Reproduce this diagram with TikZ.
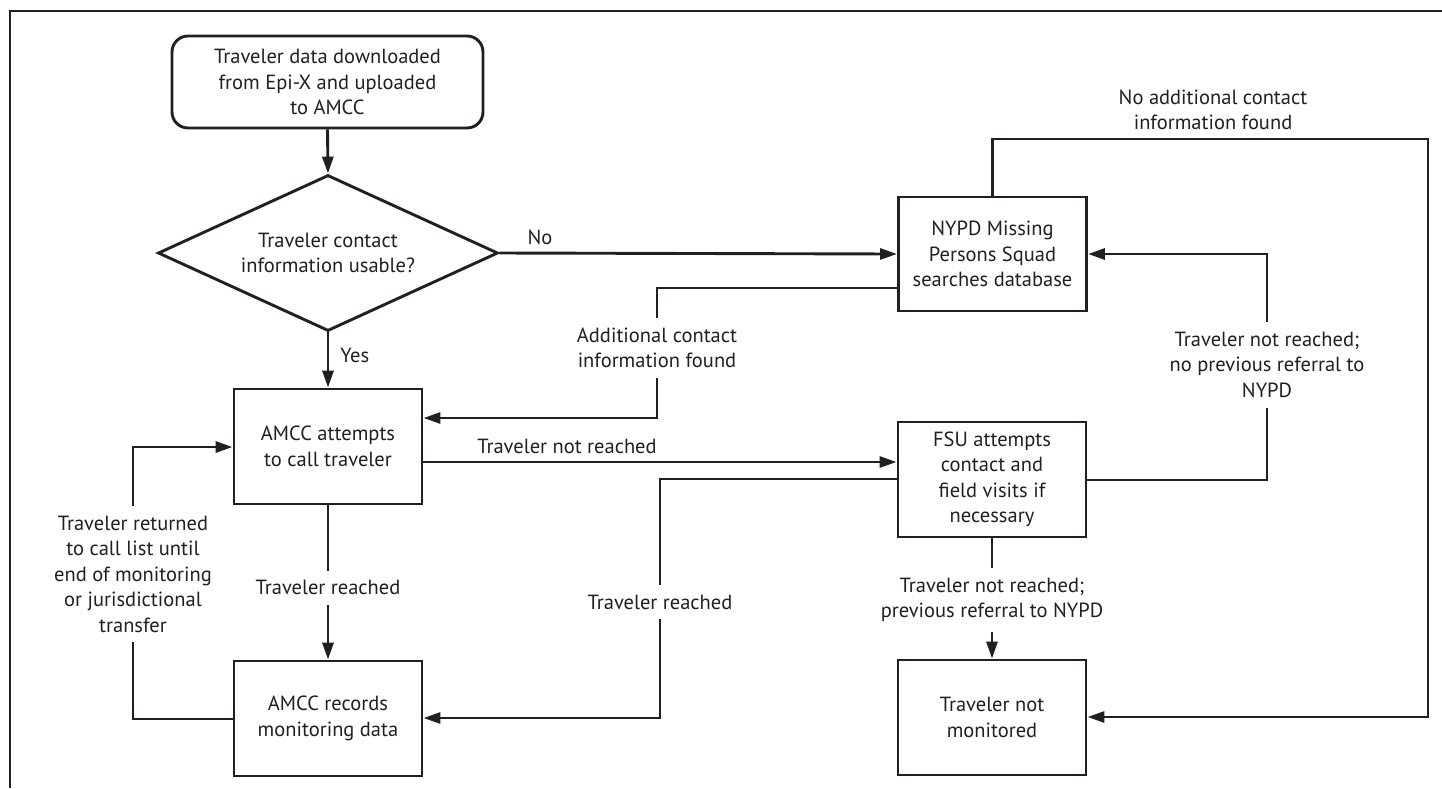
\documentclass[tikz,border=0pt]{standalone}
\usepackage{fontspec}
\setmainfont{PT Sans}
\usetikzlibrary{arrows.meta,shapes.geometric}
\definecolor{ink}{RGB}{35,31,32}
\begin{document}
\begin{tikzpicture}[x=1pt,y=-1pt,color=ink,line width=2.9pt,
  font=\fontsize{20.5}{25.5}\selectfont,
  box/.style={draw,rectangle,minimum width=188pt,minimum height=115pt,align=center,inner sep=0pt},
  lbl/.style={fill=white,align=center,inner xsep=4pt,inner ysep=10pt},
  txt/.style={align=center,inner sep=0pt},
  arr/.style={-{Triangle[length=17pt,width=11pt]}}]
\useasboundingbox (0,0) rectangle (1442,788);
% outer frame (open at right and bottom)
\draw (10,788) -- (10,11) -- (1442,11);
% nodes
\node[box,rounded corners=16pt,minimum width=311pt,minimum height=92pt] (start) at (327.5,82) {Traveler data downloaded\\from Epi-X and uploaded\\to AMCC};
\node[draw,diamond,aspect=2.18,minimum width=340pt,minimum height=156pt,inner sep=0pt,align=center] (dec) at (328,253) {Traveler contact\\information usable?};
\node[box] (call) at (328,446.5) {AMCC attempts\\to call traveler};
\node[box] (rec) at (328,718.5) {AMCC records\\monitoring data};
\node[box,minimum height=114pt] (nypd) at (992.5,254) {NYPD Missing\\Persons Squad\\searches database};
\node[box] (fsu) at (992,479.5) {FSU attempts\\contact and\\field visits if\\necessary};
\node[box] (notmon) at (992,717.5) {Traveler not\\monitored};
% connectors
\draw[arr] (start.south) -- (dec.north);
\draw[arr] (dec.east) -- (nypd.west);
\node[txt] (no) at (540,237) {No};
\draw[arr] (dec.south) -- (call.north);
\node[txt,anchor=west] (yes) at (339,355) {Yes};
\draw[arr] (nypd.west |- 0,288) -- (657,288) -- node[lbl,pos=0.46] (addl) {Additional contact\\information found} (657,418) -- (call.east |- 0,418);
\draw[arr] (call.east |- 0,462) -- (fsu.west |- 0,462);
\node[txt] (tnr) at (567,446) {Traveler not reached};
\draw[arr] (call.south) -- node[lbl,pos=0.535] (tr1) {Traveler reached} (rec.north);
\draw[arr] (fsu.west |- 0,479) -- (660,479) -- node[lbl,pos=0.515] (tr2) {Traveler reached} (660,718) -- (rec.east |- 0,718);
\draw[arr] (rec.west |- 0,719) -- (133,719) -- node[lbl,pos=0.533] (ret) {Traveler returned\\to call list until\\end of monitoring\\or jurisdictional\\transfer} (133,447) -- (call.west |- 0,447);
\draw[arr] (fsu.south) -- node[lbl,pos=0.51] (prev) {Traveler not reached;\\previous referral to NYPD} (notmon.north);
\draw[arr] (fsu.east |- 0,480) -- (1267,480) -- node[lbl,pos=0.51] (noprev) {Traveler not reached;\\no previous referral to\\NYPD} (1267,254) -- (nypd.east |- 0,254);
\draw[arr] (nypd.north) -- (nypd.north |- 0,139) -- (1428,139) -- (1428,717) -- (notmon.east |- 0,717);
\node[txt] (noadd) at (1213,110) {No additional contact\\information found};
\end{tikzpicture}
\end{document}
